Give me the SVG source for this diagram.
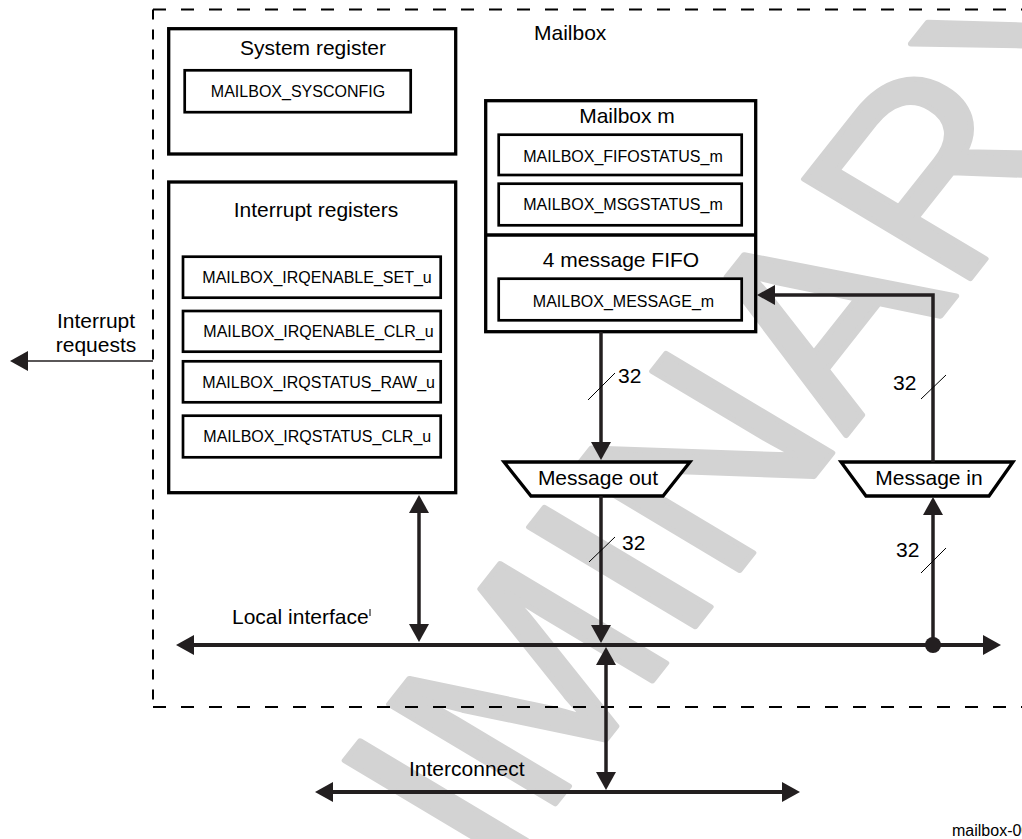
<svg xmlns="http://www.w3.org/2000/svg" width="1022" height="839" viewBox="0 0 1022 839">
<style>
.t{font-family:"Liberation Sans",Arial,Helvetica,sans-serif;fill:#000}
.b{font-size:21px}
.r{font-size:16px}
.m{text-anchor:middle}
.box{fill:none;stroke:#000;stroke-width:3.3}
.ibox{fill:#fff;stroke:#000;stroke-width:2.7}
.trap{fill:#fff;stroke:#000;stroke-width:3.3;stroke-linejoin:miter}
.wire{fill:none;stroke:#231f20;stroke-width:3.5}
.bus{fill:none;stroke:#231f20;stroke-width:4}
.thin{fill:none;stroke:#231f20;stroke-width:1.3}
.tick{fill:none;stroke:#000;stroke-width:1}
.dh{fill:none;stroke:#000;stroke-width:2;stroke-dasharray:13 15}
.dv{fill:none;stroke:#000;stroke-width:2;stroke-dasharray:10 10}
.wm{font-family:"Liberation Sans",Arial,sans-serif;font-size:293px;fill:#d3d3d3;stroke:#d3d3d3;stroke-width:6;stroke-linejoin:round}
</style>
<defs>
<marker id="ah" viewBox="0 0 18 20" refX="1" refY="10" markerWidth="18" markerHeight="20" markerUnits="userSpaceOnUse" orient="auto-start-reverse">
<path d="M0,0 L18,10 L0,20 Z" fill="#231f20"/>
</marker>
</defs>
<g id="watermark">
<text class="wm" transform="translate(62,1428) scale(1,0.87) rotate(-55.5)">PRELIMINARY</text>
</g>
<g id="mailbox">
<line class="dh" x1="153" y1="9.5" x2="1030" y2="9.5"/>
<line class="dv" x1="153" y1="9.5" x2="153" y2="707"/>
<line class="dh" x1="153" y1="707" x2="1030" y2="707"/>
<text class="t b" x="534" y="40">Mailbox</text>
</g>
<g id="system-register">
<rect class="box" x="168.7" y="28.7" width="287" height="125.3"/>
<text class="t b m" x="313" y="55">System register</text>
<rect class="ibox" x="184.7" y="70.3" width="226" height="41.9"/>
<text class="t r m" x="298" y="97">MAILBOX_SYSCONFIG</text>
</g>
<g id="interrupt-registers">
<rect class="box" x="168.7" y="182" width="287" height="310.7"/>
<text class="t b m" x="316" y="217">Interrupt registers</text>
<rect class="ibox" x="183" y="256.7" width="257.7" height="41"/>
<text class="t r" x="202.3" y="283">MAILBOX_IRQENABLE_SET_u</text>
<rect class="ibox" x="183" y="311" width="257.7" height="40.7"/>
<text class="t r" x="203.3" y="337">MAILBOX_IRQENABLE_CLR_u</text>
<rect class="ibox" x="183" y="361.3" width="257.7" height="41"/>
<text class="t r" x="202.3" y="388">MAILBOX_IRQSTATUS_RAW_u</text>
<rect class="ibox" x="183" y="415.7" width="257.7" height="41.6"/>
<text class="t r" x="203.3" y="442">MAILBOX_IRQSTATUS_CLR_u</text>
</g>
<g id="mailbox-m">
<rect class="box" x="485.7" y="100.7" width="270" height="231"/>
<line class="box" x1="485.7" y1="235" x2="755.7" y2="235"/>
<text class="t b m" x="627" y="123">Mailbox m</text>
<rect class="ibox" x="498.7" y="134.7" width="243" height="40.3"/>
<text class="t r m" x="623" y="162">MAILBOX_FIFOSTATUS_m</text>
<rect class="ibox" x="498.7" y="183.7" width="243" height="41.6"/>
<text class="t r m" x="623" y="210">MAILBOX_MSGSTATUS_m</text>
<text class="t b m" x="621" y="267">4 message FIFO</text>
<rect class="ibox" x="498.7" y="278.7" width="243" height="41.6"/>
<text class="t r m" x="623.5" y="307">MAILBOX_MESSAGE_m</text>
</g>
<g id="message-out">
<polygon class="trap" points="504,462 690,462 663,496 531,496"/>
<text class="t b m" x="598" y="485">Message out</text>
</g>
<g id="message-in">
<polygon class="trap" points="841,462 1013,462 989,496 866,496"/>
<text class="t b m" x="929" y="485">Message in</text>
</g>
<g id="connectors">
<line class="thin" x1="153" y1="361" x2="27" y2="361" marker-end="url(#ah)"/>
<text class="t b m" x="96" y="328">Interrupt</text>
<text class="t b m" x="96" y="352">requests</text>
<path class="wire" d="M933,462 V295 H774" marker-end="url(#ah)"/>
<line class="wire" x1="601" y1="332" x2="601" y2="443" marker-end="url(#ah)"/>
<line class="wire" x1="601" y1="496" x2="601" y2="626" marker-end="url(#ah)"/>
<line class="wire" x1="933" y1="645" x2="933" y2="514" marker-end="url(#ah)"/>
<circle cx="933" cy="645" r="8" fill="#231f20"/>
<line class="wire" x1="419" y1="512" x2="419" y2="625" marker-start="url(#ah)" marker-end="url(#ah)"/>
<line class="bus" x1="193" y1="645" x2="984" y2="645" marker-start="url(#ah)" marker-end="url(#ah)"/>
<line class="wire" x1="606" y1="664" x2="606" y2="773" marker-start="url(#ah)" marker-end="url(#ah)"/>
<line class="bus" x1="332" y1="792" x2="783" y2="792" marker-start="url(#ah)" marker-end="url(#ah)"/>
<line class="tick" x1="588" y1="400" x2="615" y2="373"/>
<text class="t b" x="618" y="383">32</text>
<line class="tick" x1="921" y1="399" x2="946" y2="375"/>
<text class="t b" x="893" y="390">32</text>
<line class="tick" x1="589" y1="562" x2="615" y2="537"/>
<text class="t b" x="622" y="550">32</text>
<line class="tick" x1="921" y1="573" x2="946" y2="548"/>
<text class="t b" x="896" y="557">32</text>
<text class="t b" x="232" y="624">Local interface</text>
<line class="tick" x1="370" y1="609" x2="370" y2="616"/>
<text class="t b" x="409" y="776">Interconnect</text>
</g>
<text class="t r" x="952" y="836">mailbox-001</text>
</svg>
